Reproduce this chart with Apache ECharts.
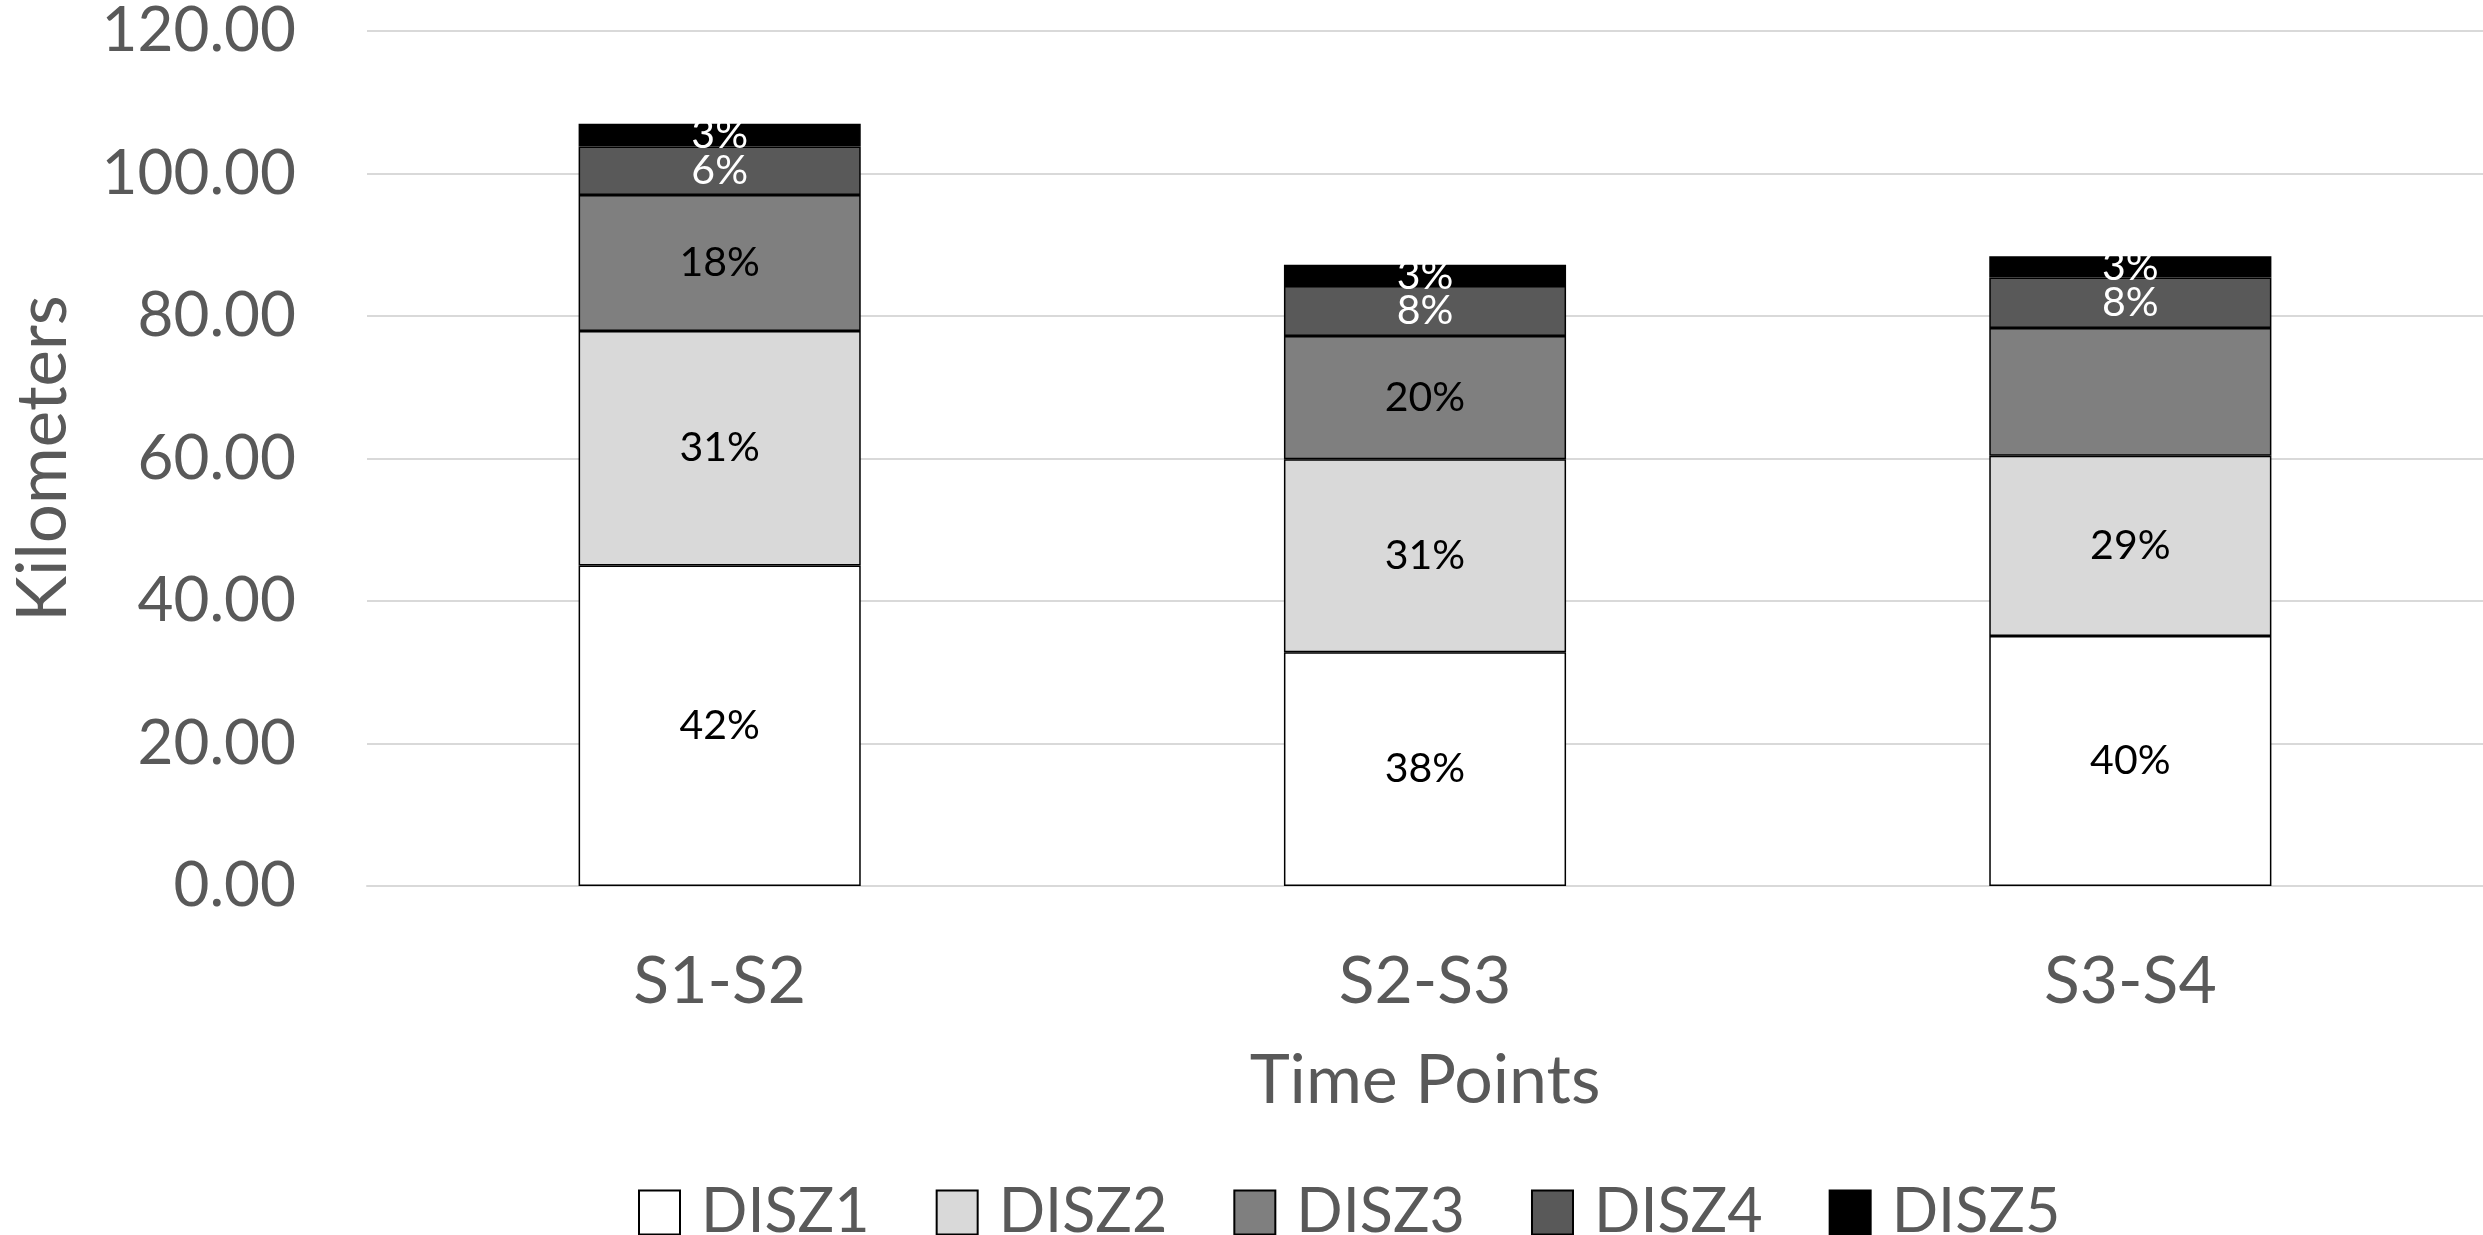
<!DOCTYPE html>
<html>
<head>
<meta charset="utf-8">
<title>Kilometers by time points</title>
<script src="https://cdn.jsdelivr.net/npm/echarts@6/dist/echarts.min.js"></script>
<style>
  html, body { margin: 0; padding: 0; background: #ffffff; }
  #chart { width: 2483px; height: 1235px; }
</style>
</head>
<body>
<div id="chart"></div>
<script>
// Time-point intervals on the x axis
const categories = ['S1-S2', 'S2-S3', 'S3-S4'];

// Kilometers travelled in each distance zone, per interval
const disz1 = [45.0, 32.8, 35.1];
const disz2 = [32.9, 27.1, 25.3];
const disz3 = [19.1, 17.3, 17.9];
const disz4 = [6.8, 7.0, 7.1];
const disz5 = [3.2, 3.0, 3.0];

const seriesNames = ['DISZ1', 'DISZ2', 'DISZ3', 'DISZ4', 'DISZ5'];
const seriesValues = [disz1, disz2, disz3, disz4, disz5];

// Y axis tick labels
const yTicks = [0, 20, 40, 60, 80, 100, 120];

// Segments that carry no percentage label
const unlabeled = [['DISZ3', 'S3-S4']];

const fills = ['#ffffff', '#d9d9d9', '#7f7f7f', '#595959', '#000000'];
const labelColors = ['#000000', '#000000', '#000000', '#ffffff', '#ffffff'];
const FONT = 'Lato, "Liberation Sans", sans-serif';
const TEXT = '#595959';

// Column totals, used for the percentage labels
const totals = categories.map((_, i) =>
  seriesValues.reduce((s, arr) => s + arr[i], 0));

const series = seriesNames.map((name, si) => ({
  name: name,
  type: 'bar',
  stack: 'km',
  barWidth: '40%',
  itemStyle: { color: fills[si], borderColor: '#000000', borderWidth: 1.5 },
  label: {
    show: true,
    position: 'inside',
    color: labelColors[si],
    fontFamily: FONT,
    fontSize: 41,
    formatter: p => Math.round(p.value / totals[p.dataIndex] * 100) + '%'
  },
  data: seriesValues[si].map((v, ci) => {
    const hide = unlabeled.some(u => u[0] === name && u[1] === categories[ci]);
    return hide ? { value: v, label: { show: false } } : v;
  })
}));

const chart = echarts.init(document.getElementById('chart'), null, { renderer: 'canvas' });

chart.setOption({
  backgroundColor: '#ffffff',
  animation: false,
  grid: { left: 367, right: 0, top: 31, bottom: 349, containLabel: false },
  legend: {
    data: seriesNames,
    left: 633,
    top: 1177,
    icon: 'rect',
    itemWidth: 41,
    itemHeight: 44,
    itemGap: 66,
    textStyle: { color: TEXT, fontFamily: FONT, fontSize: 61, padding: [0, 0, 0, 16] },
    itemStyle: { borderColor: '#000000', borderWidth: 2 }
  },
  xAxis: {
    type: 'category',
    data: categories,
    name: 'Time Points',
    nameLocation: 'middle',
    nameGap: 161,
    nameTextStyle: { color: TEXT, fontFamily: FONT, fontSize: 68 },
    axisLine: { show: true, lineStyle: { color: '#d9d9d9', width: 2 } },
    axisTick: { show: false },
    axisLabel: { color: TEXT, fontFamily: FONT, fontSize: 66, margin: 63 }
  },
  yAxis: {
    type: 'value',
    min: yTicks[0],
    max: yTicks[yTicks.length - 1],
    interval: yTicks[1] - yTicks[0],
    name: 'Kilometers',
    nameLocation: 'middle',
    nameGap: 289,
    nameTextStyle: { color: TEXT, fontFamily: FONT, fontSize: 69 },
    axisLine: { show: false },
    axisTick: { show: false },
    axisLabel: {
      color: TEXT, fontFamily: FONT, fontSize: 62, margin: 71,
      formatter: v => v.toFixed(2)
    },
    splitLine: { show: true, lineStyle: { color: '#d9d9d9', width: 2 } }
  },
  series: series
});
</script>
</body>
</html>
